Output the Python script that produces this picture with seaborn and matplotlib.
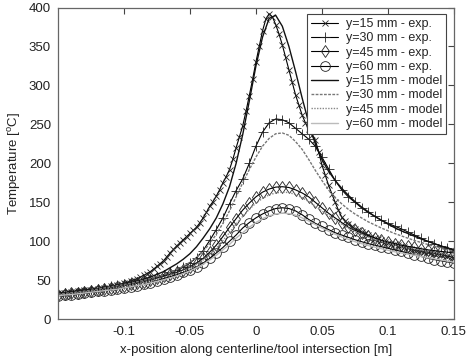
import numpy as np
import pandas as pd
import matplotlib
matplotlib.use("Agg")
import matplotlib.pyplot as plt
import seaborn as sns

# ---------------- data ----------------
x_fine = np.round(np.arange(-0.15, 0.15001, 0.0025), 4)   # y=15 exp positions
x_grid = np.round(np.arange(-0.15, 0.15001, 0.005), 4)    # other series positions

exp15 = [33, 33.5, 34, 34.5, 35, 35.5, 36, 36.5, 37, 37.5, 38, 38.5,
         39, 39.8, 40.6, 41.4, 42.2, 43, 44, 45, 46, 47.4, 48.8, 50.3,
         52, 54, 56.2, 58.5, 61, 64.3, 67.8, 71.3, 75, 80, 85, 89.5,
         94, 98, 102, 106, 110, 114, 118, 123.5, 130, 137, 145, 151,
         158, 166, 175, 183, 192, 205, 220, 234, 248, 267, 287, 308,
         330, 350, 370, 385, 392, 388, 378, 366, 352, 336, 320, 304,
         288, 275, 262, 252, 244, 236, 230, 215, 198, 185, 172, 161,
         150, 140, 131, 126, 122, 119, 116, 114, 112, 110, 108, 106,
         104, 102.5, 101, 99.5, 98, 97, 96, 95, 94, 92.8, 91.5, 90.2,
         89, 88.2, 87.5, 86.8, 86, 85.3, 84.6, 83.9, 83, 82, 81, 80, 79]

exp30 = [32, 33, 34, 35, 36, 37.5, 39, 40.5, 42, 43.5, 45, 46.5, 48, 50, 52,
         54.5, 57, 60, 63, 67, 72, 79, 88, 101, 115, 130, 148, 165, 180, 200,
         222, 240, 252, 257, 256, 252, 245, 238, 231, 222, 208, 193, 178, 166,
         157, 150, 143, 137, 132, 127, 123, 119.5, 116, 112, 108, 104, 100,
         97, 94, 91, 88]

exp45 = [31, 32, 33, 34, 35, 36, 37, 38.5, 40, 41.5, 43, 44.5, 46, 48, 50,
         52.5, 55, 57.5, 60, 63.5, 67, 72, 78, 86, 95, 106, 118, 129, 140, 149,
         157, 163, 167, 169.5, 170, 169, 166, 162, 157, 150, 143, 136, 130, 124,
         118, 114, 110, 107, 104, 101, 99, 97, 95, 93.5, 92, 90.5, 89, 88, 87,
         86, 85]

exp60 = [30, 31, 31.5, 32.5, 33.5, 34.5, 35.5, 36.5, 37.5, 39, 40, 41.5, 43,
         45, 47, 49.5, 52, 54.5, 57, 60, 63, 67, 72, 78, 85, 92, 100, 108, 117,
         124, 130, 135, 139, 142, 143, 142, 139, 134, 128, 123, 119, 115, 111,
         108, 105, 102, 99.5, 97, 95, 93, 91, 89, 87, 85, 82.5, 80.5, 78.5,
         76.5, 75, 73.5, 72]

mod15 = [33, 34, 35, 36, 37, 38, 39, 40.5, 42, 43.5, 45, 47, 49, 51.5, 54,
         57.5, 61, 66, 71, 77, 84, 93, 104, 116, 130, 148, 170, 200, 237, 280,
         325, 362, 386, 390, 376, 350, 318, 284, 252, 225, 205, 190, 178, 168,
         159, 151, 144, 138, 132, 127, 122, 117.5, 113.5, 110, 106.5, 103, 100,
         97, 94, 91.5, 89]

mod30 = [32, 33, 34, 35, 36, 37, 38.5, 40, 41.5, 43, 44.5, 46, 48, 50, 52,
         54.5, 57, 60, 63.5, 68, 73, 79, 87, 97, 109, 123, 139, 157, 175, 192,
         208, 222, 232, 238, 239, 236, 228, 218, 205, 191, 178, 166, 156, 148,
         141, 135, 130, 125, 121, 117, 113.5, 110, 107, 104, 101, 98.5, 96,
         93.5, 91, 89, 87]

mod45 = [31, 32, 33, 34, 35, 36, 37, 38, 39.5, 41, 42.5, 44, 45.5, 47.5, 49.5,
         51.5, 54, 56.5, 59, 62.5, 66, 70.5, 76, 83, 91, 101, 111, 122, 132,
         141, 149, 155, 159.5, 162, 163, 162.5, 160, 156, 151, 145, 139, 133,
         127.5, 122, 117, 113, 109, 105.5, 102.5, 100, 97.5, 95.5, 93.5, 91.5,
         90, 88.5, 87, 85.5, 84, 83, 82]

mod60 = [30, 31, 31.5, 32.5, 33.5, 34.5, 35.5, 36.5, 37.5, 38.5, 40, 41.5, 43,
         44.5, 46.5, 48.5, 50.5, 53, 55.5, 58.5, 62, 66, 70.5, 76, 82, 89, 96,
         104, 111, 118, 124, 129, 132.5, 135, 136, 135.5, 133.5, 130, 126,
         121.5, 117, 113, 109, 105.5, 102.5, 99.5, 97, 94.5, 92.5, 90.5, 88.5,
         86.5, 85, 83.5, 82, 80.5, 79, 77.5, 76, 74.5, 73]

labels_exp = ["y=15 mm - exp.", "y=30 mm - exp.", "y=45 mm - exp.", "y=60 mm - exp."]
labels_mod = ["y=15 mm - model", "y=30 mm - model", "y=45 mm - model", "y=60 mm - model"]

x_ticks = [-0.1, -0.05, 0, 0.05, 0.1, 0.15]
x_ticklabels = ["-0.1", "-0.05", "0", "0.05", "0.1", "0.15"]
y_ticks = [0, 50, 100, 150, 200, 250, 300, 350, 400]

# ---------------- style ----------------
sns.set_style("white")
plt.rcParams['font.family'] = ['Liberation Sans', 'DejaVu Sans']
plt.rcParams['mathtext.fontset'] = 'custom'
plt.rcParams['mathtext.rm'] = 'Liberation Sans'
plt.rcParams['mathtext.it'] = 'Liberation Sans'

fig = plt.figure(figsize=(4.67, 3.59), dpi=100)
ax = fig.add_axes([0.124, 0.111, 0.848, 0.868])

exp_series = [(x_fine, exp15, 'x', 5, labels_exp[0]),
              (x_grid, exp30, '+', 7, labels_exp[1]),
              (x_grid, exp45, 'd', 6, labels_exp[2]),
              (x_grid, exp60, 'o', 7, labels_exp[3])]

for xs, ys, m, ms, lab in exp_series:
    df = pd.DataFrame({"x": xs, "T": ys})
    sns.lineplot(data=df, x="x", y="T", ax=ax, color='black', lw=0.8,
                 marker=m, markersize=ms, markerfacecolor='none',
                 markeredgecolor='#222222', markeredgewidth=0.6,
                 label=lab, estimator=None, sort=False)

mod_styles = [('#111111', '-', 1.0),
              ('#777777', (0, (2, 1)), 1.0),
              ('#888888', (0, (1, 1)), 1.0),
              ('#bbbbbb', '-', 1.0)]
for ys, (c, ls, lw), lab in zip([mod15, mod30, mod45, mod60], mod_styles, labels_mod):
    df = pd.DataFrame({"x": x_grid, "T": ys})
    sns.lineplot(data=df, x="x", y="T", ax=ax, color=c, lw=lw, linestyle=ls,
                 label=lab, estimator=None, sort=False)

ax.set_xlim(-0.15, 0.15)
ax.set_ylim(0, 400)
ax.set_xticks(x_ticks)
ax.set_xticklabels(x_ticklabels)
ax.set_yticks(y_ticks)
ax.tick_params(direction='in', top=True, right=True, length=4, width=0.8,
               labelsize=9.5, colors='#444444', labelcolor='#222222', pad=5)
for s in ax.spines.values():
    s.set_color('#666666')
    s.set_linewidth(0.9)

ax.set_xlabel("x-position along centerline/tool intersection [m]", fontsize=9.5, color='#222222')
ax.set_ylabel("Temperature [$^{o}$C]", fontsize=9.5, color='#222222', labelpad=4)

leg = ax.legend(loc='upper right', fontsize=9, frameon=True, fancybox=False,
                edgecolor='#444444', framealpha=1, handlelength=2.2,
                handletextpad=0.6, labelspacing=0.18, borderpad=0.3,
                borderaxespad=0, bbox_to_anchor=(0.98, 0.978))
leg.get_frame().set_linewidth(0.8)

fig.savefig("out.png", dpi=100)
